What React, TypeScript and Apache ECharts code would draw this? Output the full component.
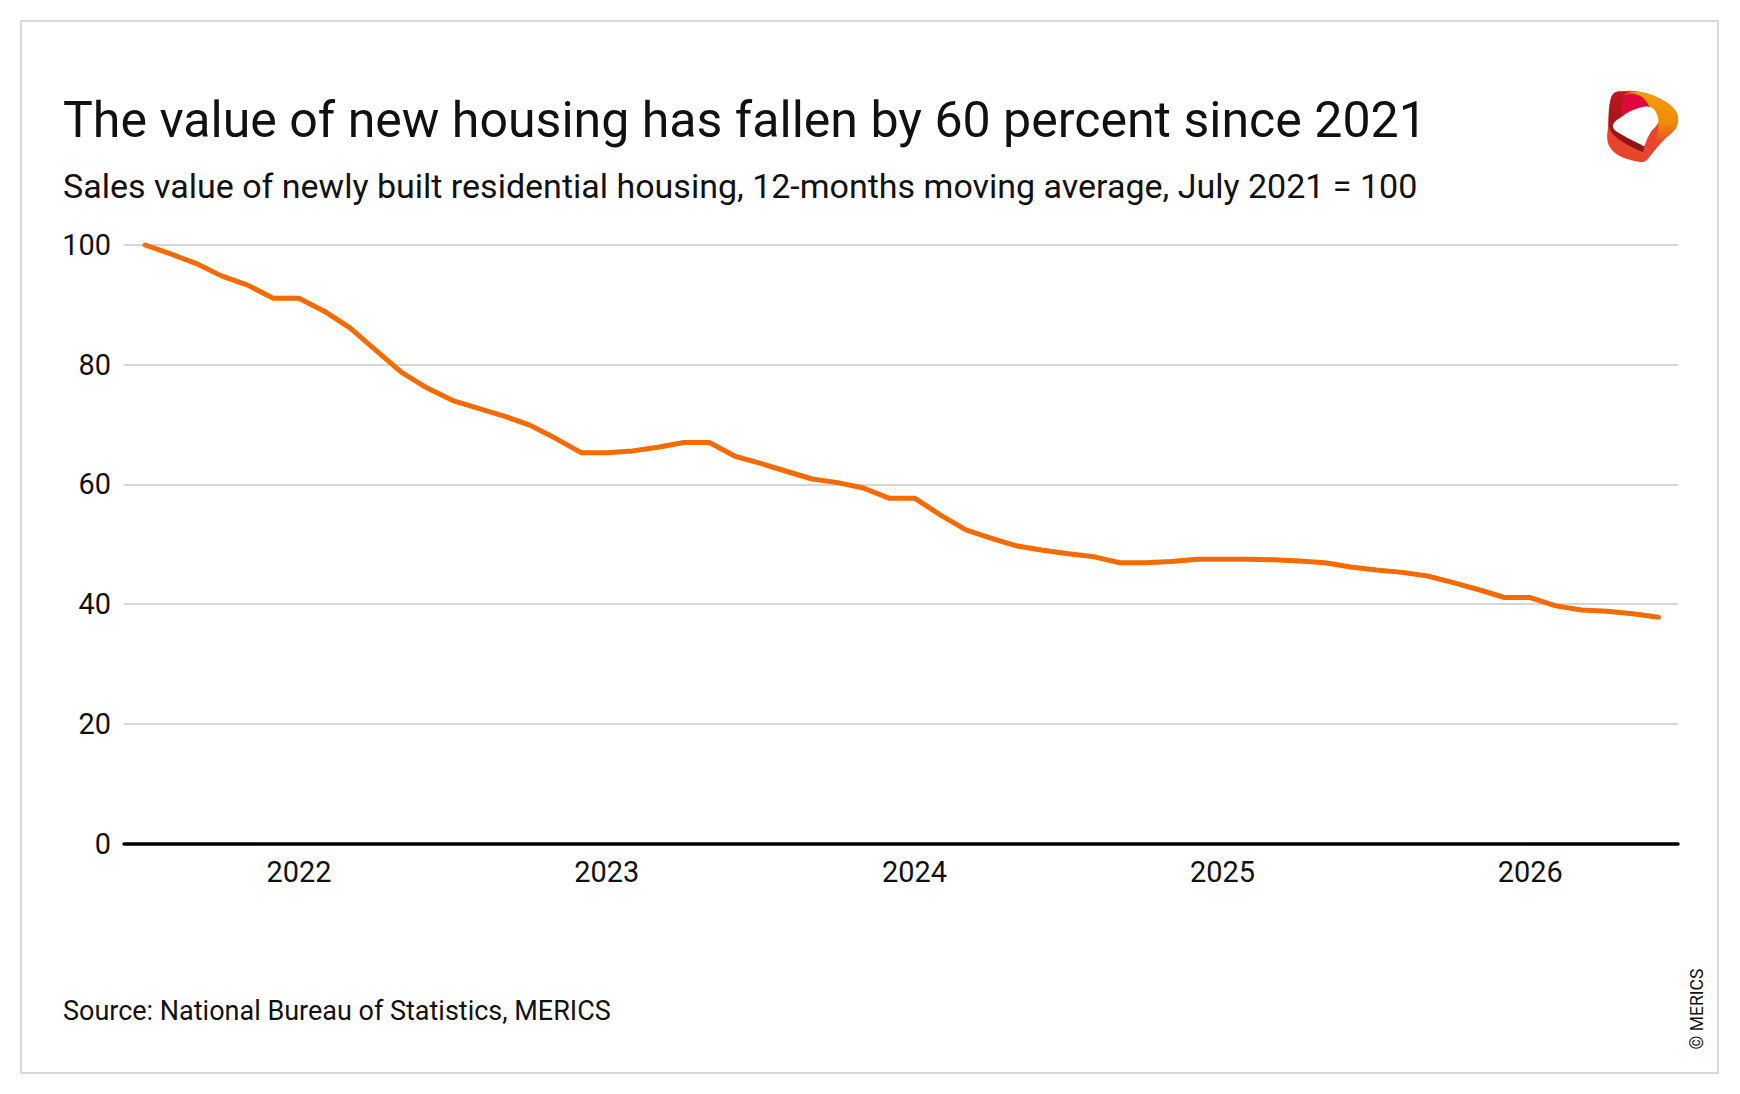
import React, { useEffect, useRef } from "react";
import * as echarts from "echarts";

// ---- data ----
const titleText = "The value of new housing has fallen by 60 percent since 2021";
const subtitleText =
  "Sales value of newly built residential housing, 12-months moving average, July 2021 = 100";
const sourceText = "Source: National Bureau of Statistics, MERICS";
const copyrightText = "© MERICS";

// monthly index, July 2021 = month 0
const values: number[] = [
  100, 98.5, 96.9, 94.8, 93.3, 91.1, 91.1, 88.9, 86.1, 82.4,
  78.7, 76.1, 74.0, 72.7, 71.4, 69.9, 67.7, 65.3, 65.3, 65.6,
  66.2, 67.0, 67.0, 64.7, 63.5, 62.2, 60.9, 60.3, 59.4, 57.7,
  57.7, 54.9, 52.4, 51.0, 49.7, 49.0, 48.4, 47.9, 46.9, 46.9,
  47.1, 47.5, 47.5, 47.5, 47.4, 47.2, 46.9, 46.2, 45.7, 45.3,
  44.7, 43.6, 42.4, 41.1, 41.1, 39.7, 39.0, 38.8, 38.4, 37.8,
];
const yearTickMonths: number[] = [6, 18, 30, 42, 54];
const yearLabels: string[] = ["2022", "2023", "2024", "2025", "2026"];
const yMin = 0;
const yMax = 100;
const yStep = 20;

// ---- logo shapes (100 x 100 box) ----
const P_OUTER =
  "M16 2 C30 0 50 1 70 10 C88 18 100 28 100 40 C100 50 96 56 88 62 C78 70 68 82 60 92 C56 98 52 101 46 100 C30 98 10 92 3 80 C-2 72 -2 62 0 54 C1 40 0 24 4 12 C6 5 10 2 16 2 Z";
const P_ORANGE =
  "M30 3 C45 1 60 5 72 11 C88 19 100 28 100 40 C100 50 96 56 88 62 C82 66 76 70 70 74 C70 66 72 56 72 46 C71 38 66 30 61 26 C57 20 54 14 49 10 C44 6 38 4 30 3 Z";
const P_MAGENTA =
  "M22 8 C30 5 40 5 49 10 C54 14 57 20 61 26 C58 24 56 23 55 23 C45 24 32 28 20 37 C20 26 21 16 22 8 Z";
const P_LEFT =
  "M4 12 C6 5 10 2 16 2 C22 2 28 3 30 3 C26 4 23 6 22 8 C21 16 20 26 20 37 C13 41 7 45 7 50 C7 55 12 58 20 62 C30 68 44 74 52 78 L50 86 C38 82 22 74 12 66 C6 61 2 56 1 50 C1 38 1 24 4 12 Z";
const P_HOLE =
  "M20 37 C32 28 45 24 55 23 C64 22 70 30 72 40 C73 47 68 51 63 56 C58 62 55 70 52 78 C44 74 30 68 20 62 C12 58 7 55 7 50 C7 45 13 41 20 37 Z";

echarts.graphic.registerShape("logoOuter", echarts.graphic.extendPath(P_OUTER, {}));
echarts.graphic.registerShape("logoOrange", echarts.graphic.extendPath(P_ORANGE, {}));
echarts.graphic.registerShape("logoMagenta", echarts.graphic.extendPath(P_MAGENTA, {}));
echarts.graphic.registerShape("logoLeft", echarts.graphic.extendPath(P_LEFT, {}));
echarts.graphic.registerShape("logoHole", echarts.graphic.extendPath(P_HOLE, {}));

const FONT = "Roboto, 'Noto Sans', sans-serif";

function fitSize(text: string, target: number): number {
  const ctx = document.createElement("canvas").getContext("2d");
  if (!ctx) return 30;
  ctx.font = `100px ${FONT}`;
  const w = ctx.measureText(text).width;
  return (100 * target) / w;
}

export default function App() {
  const ref = useRef<HTMLDivElement>(null);

  useEffect(() => {
    if (!ref.current) return;
    const chart = echarts.init(ref.current, undefined, { renderer: "svg" });

    const titleSize = fitSize(titleText, 1364);
    const subSize = fitSize(subtitleText, 1355);
    const srcSize = fitSize(sourceText, 548);
    const axisSize = (fitSize("100", 48) + fitSize("2022", 66)) / 2;
    const copySize = fitSize(copyrightText, 81);

    const text = (
      t: string,
      x: number,
      y: number,
      size: number,
      extra: any = {}
    ) => ({
      type: "text",
      x,
      y,
      ...extra,
      style: {
        text: t,
        fontSize: size,
        fontFamily: FONT,
        fill: "#111111",
        align: extra.align || "left",
        textAlign: extra.align || "left",
        verticalAlign: "middle",
        textVerticalAlign: "middle",
      },
    });

    chart.setOption({
      animation: false,
      backgroundColor: "#ffffff",
      grid: { left: 124, right: 62, top: 245, bottom: 250.5, containLabel: false },
      xAxis: {
        type: "value",
        min: -0.82,
        max: 59.76,
        splitLine: { show: false },
        axisTick: { show: false },
        axisLine: { show: true, onZero: false, lineStyle: { color: "#000000", width: 3.5 } },
        axisLabel: {
          customValues: yearTickMonths,
          formatter: (v: number) => {
            const k = yearTickMonths.indexOf(Math.round(v));
            return k >= 0 ? yearLabels[k] : "";
          },
          fontSize: axisSize,
          fontFamily: FONT,
          color: "#111111",
          margin: 14,
        },
      },
      yAxis: {
        type: "value",
        min: yMin,
        max: yMax,
        interval: yStep,
        axisLine: { show: false },
        axisTick: { show: false },
        splitLine: { lineStyle: { color: "#c8c8c8", width: 1.5 } },
        axisLabel: {
          fontSize: axisSize,
          fontFamily: FONT,
          color: "#111111",
          margin: 13,
        },
      },
      series: [
        {
          type: "line",
          data: values.map((v, i) => [i, v]),
          symbol: "none",
          lineStyle: { color: "#f66a00", width: 5, cap: "round", join: "round" },
          z: 3,
        },
      ],
      graphic: [
        {
          type: "rect",
          shape: { x: 21, y: 21, width: 1697, height: 1052 },
          style: { fill: "none", stroke: "#d8d8d8", lineWidth: 2 },
          silent: true,
        },
        text(titleText, 63, 120, titleSize),
        text(subtitleText, 63, 186, subSize),
        text(sourceText, 63, 1011, srcSize),
        text(copyrightText, 1697, 1009, copySize, { align: "center", rotation: Math.PI / 2 }),
        {
          type: "group",
          x: 1608,
          y: 90,
          scaleX: 0.7,
          scaleY: 0.72,
          children: [
            { type: "logoOuter", style: { fill: "#e8452c" } },
            {
              type: "logoOrange",
              style: {
                fill: new echarts.graphic.LinearGradient(0, 0, 0, 1, [
                  { offset: 0, color: "#f5a000" },
                  { offset: 0.6, color: "#f08a05" },
                  { offset: 1, color: "#e5502a" },
                ]),
              },
            },
            { type: "logoMagenta", style: { fill: "#e2063f" } },
            {
              type: "logoLeft",
              style: {
                fill: new echarts.graphic.LinearGradient(0, 0, 0, 1, [
                  { offset: 0, color: "#c3161e" },
                  { offset: 1, color: "#86151a" },
                ]),
              },
            },
            { type: "logoHole", style: { fill: "#ffffff" } },
          ],
        },
      ],
    });

    return () => chart.dispose();
  }, []);

  return (
    <div
      ref={ref}
      style={{ position: "absolute", left: 0, top: 0, width: 1740, height: 1094, background: "#fff" }}
    />
  );
}
